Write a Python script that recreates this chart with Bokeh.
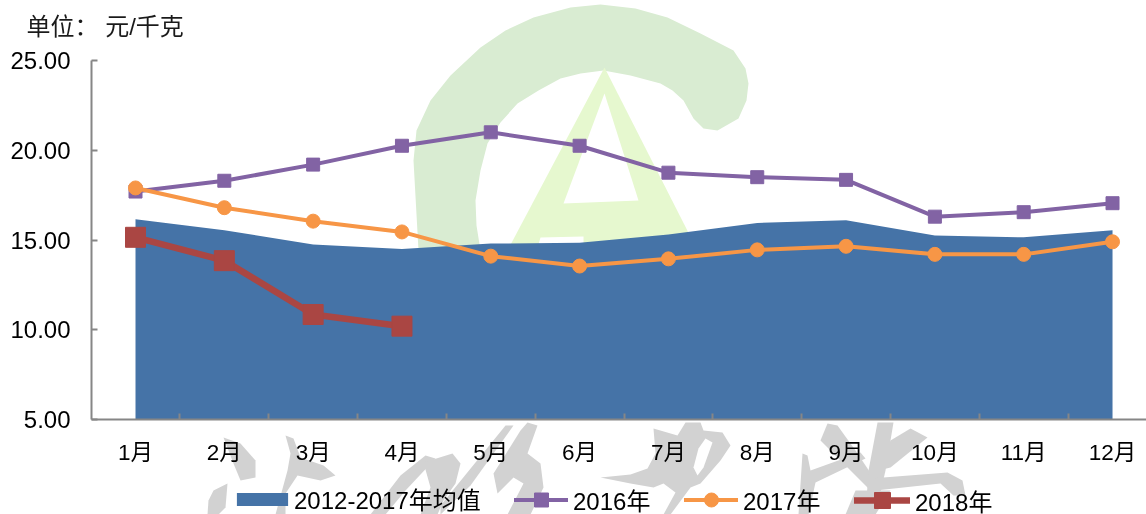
from bokeh.plotting import figure
from bokeh.models import (Range1d, FixedTicker, Legend, LegendItem, Label, PolyAnnotation)
from bokeh.embed import file_html
from bokeh.resources import INLINE

months = ["1月","2月","3月","4月","5月","6月","7月","8月","9月","10月","11月","12月"]
x_pos = [1,2,3,4,5,6,7,8,9,10,11,12]
x_boundaries = [1.5,2.5,3.5,4.5,5.5,6.5,7.5,8.5,9.5,10.5,11.5]
avg_2012_2017 = [16.15,15.55,14.75,14.5,14.8,14.85,15.3,15.95,16.1,15.25,15.15,15.55]
y2016 = [17.7,18.3,19.2,20.25,21.0,20.25,18.75,18.5,18.35,16.3,16.55,17.05]
y2017 = [17.9,16.8,16.05,15.45,14.1,13.55,13.95,14.45,14.65,14.2,14.2,14.9]
y2018 = [15.15,13.85,10.85,10.2]
y_ticks = [5,10,15,20,25]

FONT = "Liberation Sans, Noto Sans CJK SC"
BLUE, PURPLE, ORANGE, RED, GREY = "#4573a7", "#8263a4", "#f79646", "#aa4643", "#868686"
W, H = 1146, 514
PX_X = 88.82   # pixels per month
PX_Y = 17.95   # pixels per yuan
x_start = 1 - 135 / PX_X
x_end = 1 + (W - 135) / PX_X
y_start = 5 - (H - 419) / PX_Y
y_end = 25 + 60 / PX_Y

p = figure(width=W, height=H, output_backend="svg", toolbar_location=None,
           x_range=Range1d(x_start, x_end), y_range=Range1d(y_start, y_end),
           min_border_left=0, min_border_right=0, min_border_top=0, min_border_bottom=0)
p.styles = {"position": "fixed", "left": "0", "top": "0"}
p.outline_line_color = None
p.grid.visible = False
p.background_fill_color = "white"
p.border_fill_color = "white"

# Watermark shapes (page-pixel outlines, decorative background only)
def wm(pts, color):
    p.add_layout(PolyAnnotation(xs=[a for a, _ in pts], ys=[H - b for _, b in pts],
                                xs_units="screen", ys_units="screen", fill_color=color,
                                fill_alpha=1, line_alpha=0, level="underlay"))
C_ARC = [(418,250),(413,160),(416,130),(430,100),(450,75),(480,47),(505,30),(533,17),(570,7),(600,4),(635,8),
         (667,17),(700,33),(733,50),(745,68),(748,83),(746,100),(738,118),(717,130),(703,128),(693,118),(683,100),
         (672,90),(660,83),(630,75),(603,70),(580,73),(560,78),(538,90),(517,103),(500,122),(487,143),(480,170),
         (475,200),(476,225),(480,250)]
A_OUT = [(604,67),(507,250),(697,250)]
A_HOLE = [(604,93),(563,203),(638,200)]
A_LOW = [(540,237),(583,236),(583,250),(536,250)]
wm(C_ARC, "#d9ecd2"); wm(A_OUT, "#e6f8cf"); wm(A_HOLE, "#ffffff"); wm(A_LOW, "#ffffff")
INK = [
 [(223,437),(240,443),(255,460),(255,477),(240,480),(233,463)],
 [(213,490),(227,483),(225,507),(218,514),(207,514),(208,500)],
 [(285,435),(293,438),(300,457),(323,465),(335,475),(320,480),(297,475),(285,493),(285,514),(275,514),(287,470),(290,453)],
 [(425,455),(435,458),(405,490),(385,514),(370,514),(400,475)],
 [(423,462),(452,453),(460,463),(455,483),(443,500),(437,514),(420,514),(430,487)],
 [(505,425),(513,425),(470,485),(440,514),(440,505)],
 [(493,473),(520,430),(527,422),(537,425),(527,453),(540,463),(543,487),(530,514),(507,514),(523,483),(513,477),(497,493)],
 [(653,428),(677,435),(685,422),(700,422),(703,430),(722,432),(730,445),(720,460),(700,483),(690,487),(670,514),
  (663,514),(675,492),(663,483),(653,487),(630,483),(600,477),(630,474),(647,468),(655,453)],
 [(827,423),(837,425),(855,450),(875,480),(870,490),(845,465),(820,440)],
 [(877,422),(893,422),(885,470),(875,514),(865,514),(868,470)],
 [(890,440),(910,428),(927,437),(890,467),(878,470)],
 [(802,453),(807,455),(810,470),(860,452),(865,458),(815,482),(808,514),(798,514)],
 [(870,478),(947,472),(962,480),(965,495),(953,495),(940,483),(875,490)],
 [(855,490),(890,490),(875,514),(845,514)],
]
for s in INK:
    wm(s, "#d2d2d2")
wm([(705,438),(712,442),(703,467),(697,475),(693,467),(698,448)], "#ffffff")

area = p.varea(x=x_pos, y1=[5]*12, y2=avg_2012_2017, fill_color=BLUE)
l16 = p.line(x_pos, y2016, line_color=PURPLE, line_width=4, line_cap="round")
m16 = p.scatter(x_pos, y2016, marker="square", size=13, fill_color=PURPLE, line_color=PURPLE)
l17 = p.line(x_pos, y2017, line_color=ORANGE, line_width=4, line_cap="round")
m17 = p.scatter(x_pos, y2017, marker="circle", size=14, fill_color=ORANGE, line_color=ORANGE)
l18 = p.line(x_pos[:4], y2018, line_color=RED, line_width=6.5, line_cap="round")
m18 = p.scatter(x_pos[:4], y2018, marker="square", size=20, fill_color=RED, line_color=RED)

xa = p.xaxis[0]
xa.fixed_location = 5
xa.bounds = (1 - 44 / PX_X, x_end)
xa.ticker = FixedTicker(ticks=x_pos, minor_ticks=x_boundaries)
xa.major_label_overrides = {k: v for k, v in zip(x_pos, months)}
xa.major_tick_line_color = None
xa.minor_tick_in, xa.minor_tick_out = 6, 0
xa.minor_tick_line_color = GREY
xa.minor_tick_line_width = 2
xa.axis_line_color = GREY
xa.axis_line_width = 2
xa.major_label_text_font = FONT
xa.major_label_text_font_size = "22.5px"
xa.major_label_text_color = "#000000"
xa.major_label_standoff = 14

ya = p.yaxis[0]
ya.fixed_location = 1 - 44 / PX_X
ya.bounds = (5, 25)
ya.ticker = FixedTicker(ticks=y_ticks)
ya.major_label_overrides = {k: f"{k:.2f}" for k in y_ticks}
ya.major_tick_in, ya.major_tick_out = 6, 0
ya.major_tick_line_color = GREY
ya.major_tick_line_width = 2
ya.minor_tick_line_color = None
ya.axis_line_color = GREY
ya.axis_line_width = 2
ya.major_label_text_font = FONT
ya.major_label_text_font_size = "24px"
ya.major_label_text_color = "#000000"
ya.major_label_standoff = 21

p.add_layout(Label(x=26, y=H - 39, x_units="screen", y_units="screen", text="单位：  元/千克",
                   text_font=FONT, text_font_size="24px", text_color="#1a1a1a"))

# One legend per entry: each has its own key size and left edge
def add_legend(label, renderers, left, key_w, key_h, bottom, standoff=5):
    p.add_layout(Legend(items=[LegendItem(label=label, renderers=renderers)],
                        location=(left, bottom), glyph_width=key_w, glyph_height=key_h,
                        label_standoff=standoff, padding=0, margin=0, border_line_color=None,
                        background_fill_alpha=0, label_text_font=FONT, label_text_font_size="24px",
                        label_text_color="#000000", label_height=24), "center")
add_legend("2012-2017年均值", [area], 230, 64, 16, -2, standoff=-1)
add_legend("2016年", [l16, m16], 514, 54, 35, -3)
add_legend("2017年", [l17, m17], 684, 54, 35, -3)
add_legend("2018年", [l18, m18], 854, 56, 40, -6)

open("out.html", "w").write(file_html(p, INLINE))
